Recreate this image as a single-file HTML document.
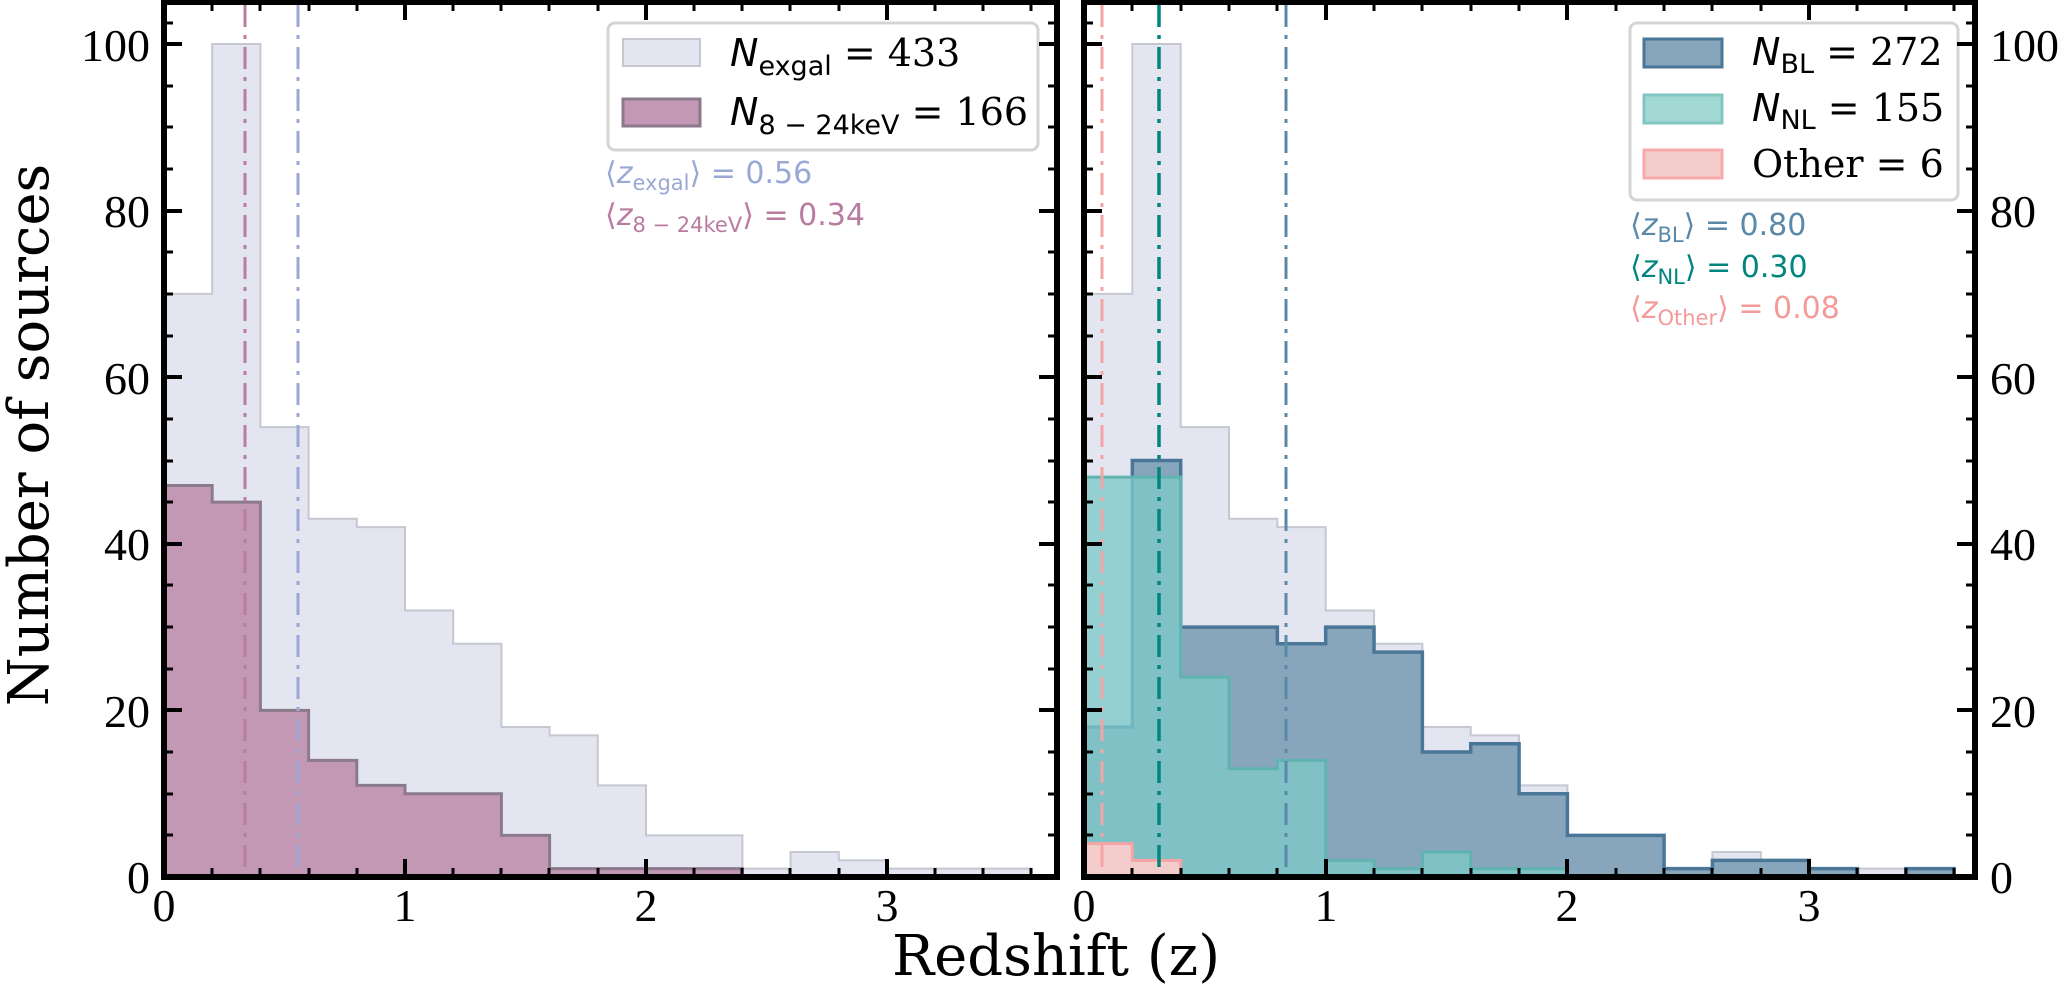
<!DOCTYPE html>
<html><head><meta charset="utf-8"><style>
html,body{margin:0;padding:0;background:#fff;}
svg{display:block;}
.tk{font-family:"Liberation Serif",serif;font-size:46px;fill:#000;}
.lab{font-family:"DejaVu Serif",serif;font-size:56px;fill:#000;}
.m{font-family:"DejaVu Sans",sans-serif;}
.num{font-family:"DejaVu Serif",serif;}
</style></head><body>
<svg width="2070" height="995" viewBox="0 0 2070 995" xmlns="http://www.w3.org/2000/svg">
<rect width="2070" height="995" fill="#fff"/>

<!-- LEFT PANEL -->
<g transform="translate(164,877) scale(241,-8.33)">
  <path d="M0,0 V70 H0.2 V100 H0.4 V54 H0.6 V43 H0.8 V42 H1.0 V32 H1.2 V28 H1.4 V18 H1.6 V17 H1.8 V11 H2.0 V5 H2.4 V1 H2.6 V3 H2.8 V2 H3.0 V1 H3.6 V0 Z" fill="#e3e5f0" stroke="#c6c7d0" stroke-width="2" vector-effect="non-scaling-stroke"/>
  <path d="M0,0 V47 H0.2 V45 H0.4 V20 H0.6 V14 H0.8 V11 H1.0 V10 H1.4 V5 H1.6 V1 H2.4 V0 Z" fill="#c298b5" stroke="#8b7a8b" stroke-width="3" vector-effect="non-scaling-stroke"/>
</g>
<line x1="245" y1="5" x2="245" y2="877" stroke="#b97ba0" stroke-width="3" stroke-dasharray="22,8,4,8"/>
<line x1="298" y1="5" x2="298" y2="877" stroke="#9aa8d6" stroke-width="3" stroke-dasharray="22,8,4,8"/>

<!-- left legend -->
<rect x="608" y="23" width="430" height="127" rx="7" fill="#fff" fill-opacity="0.85" stroke="#d4d4d4" stroke-width="3"/>
<rect x="623" y="39" width="77" height="27" fill="#e3e5f0" stroke="#c6c7d0" stroke-width="2"/>
<rect x="623" y="99" width="77" height="27" fill="#c298b5" stroke="#8b7a8b" stroke-width="3"/>
<text x="730" y="66" font-size="38"><tspan class="m" font-style="italic">N</tspan><tspan class="m" font-size="27" dy="9">exgal</tspan><tspan class="m" dy="-9"> = </tspan><tspan class="num" font-size="38">433</tspan></text>
<text x="730" y="125" font-size="38"><tspan class="m" font-style="italic">N</tspan><tspan class="m" font-size="27" dy="9">8 − 24keV</tspan><tspan class="m" dy="-9"> = </tspan><tspan class="num" font-size="38">166</tspan></text>
<text x="605" y="183" font-size="30" fill="#9aa8d6" class="m">⟨<tspan font-style="italic">z</tspan><tspan font-size="21" dy="7">exgal</tspan><tspan dy="-7">⟩ = 0.56</tspan></text>
<text x="605" y="225" font-size="30" fill="#b97ba0" class="m">⟨<tspan font-style="italic">z</tspan><tspan font-size="21" dy="7">8 − 24keV</tspan><tspan dy="-7">⟩ = 0.34</tspan></text>

<!-- RIGHT PANEL -->
<g transform="translate(1084,877) scale(241.7,-8.33)">
  <path d="M0,0 V70 H0.2 V100 H0.4 V54 H0.6 V43 H0.8 V42 H1.0 V32 H1.2 V28 H1.4 V18 H1.6 V17 H1.8 V11 H2.0 V5 H2.4 V1 H2.6 V3 H2.8 V2 H3.0 V1 H3.6 V0 Z" fill="#e3e5f0" stroke="#c6c7d0" stroke-width="2" vector-effect="non-scaling-stroke"/>
  <path d="M0,0 V18 H0.2 V50 H0.4 V30 H0.8 V28 H1.0 V30 H1.2 V27 H1.4 V15 H1.6 V16 H1.8 V10 H2.0 V5 H2.4 V1 H2.6 V2 H3.0 V1 H3.2 V0 H3.4 V1 H3.6 V0 Z" fill="#87a6bc" stroke="#4a7798" stroke-width="3.5" vector-effect="non-scaling-stroke"/>
  <path d="M0,0 V48 H0.4 V24 H0.6 V13 H0.8 V14 H1.0 V2 H1.2 V1 H1.4 V3 H1.6 V1 H2.0 V0 Z" fill="rgb(126,201,201)" fill-opacity="0.78" stroke="#5fb3b0" stroke-width="3" vector-effect="non-scaling-stroke"/>
  <path d="M0,0 V4 H0.2 V2 H0.4 V0 Z" fill="#f5cccc" stroke="#f4a4a4" stroke-width="3" vector-effect="non-scaling-stroke"/>
</g>
<line x1="1102" y1="5" x2="1102" y2="877" stroke="#f4a4a4" stroke-width="3" stroke-dasharray="22,8,4,8"/>
<line x1="1159" y1="5" x2="1159" y2="877" stroke="#00857f" stroke-width="3.5" stroke-dasharray="22,8,4,8"/>
<line x1="1286" y1="5" x2="1286" y2="877" stroke="#5a88a8" stroke-width="3" stroke-dasharray="22,8,4,8"/>

<!-- right legend -->
<rect x="1630" y="23" width="328" height="177" rx="7" fill="#fff" fill-opacity="0.85" stroke="#d4d4d4" stroke-width="3"/>
<rect x="1644" y="39" width="78" height="28" fill="#87a6bc" stroke="#4a7798" stroke-width="3"/>
<rect x="1644" y="95" width="78" height="28" fill="#a2d9d5" stroke="#82c6c0" stroke-width="3"/>
<rect x="1644" y="150" width="78" height="28" fill="#f5cccc" stroke="#f9a9a9" stroke-width="3"/>
<text x="1752" y="65" font-size="38"><tspan class="m" font-style="italic">N</tspan><tspan class="m" font-size="27" dy="8">BL</tspan><tspan class="m" dy="-8"> = </tspan><tspan class="num" font-size="38">272</tspan></text>
<text x="1752" y="121" font-size="38"><tspan class="m" font-style="italic">N</tspan><tspan class="m" font-size="27" dy="8">NL</tspan><tspan class="m" dy="-8"> = </tspan><tspan class="num" font-size="38">155</tspan></text>
<text x="1752" y="177" font-size="38" class="num">Other <tspan class="m" font-size="38">=</tspan> 6</text>
<text x="1630" y="235" font-size="30" fill="#5a88a8" class="m">⟨<tspan font-style="italic">z</tspan><tspan font-size="21" dy="7">BL</tspan><tspan dy="-7">⟩ = 0.80</tspan></text>
<text x="1630" y="277" font-size="30" fill="#00857f" class="m">⟨<tspan font-style="italic">z</tspan><tspan font-size="21" dy="7">NL</tspan><tspan dy="-7">⟩ = 0.30</tspan></text>
<text x="1630" y="318" font-size="30" fill="#f49a9a" class="m">⟨<tspan font-style="italic">z</tspan><tspan font-size="21" dy="7">Other</tspan><tspan dy="-7">⟩ = 0.08</tspan></text>

<!-- ticks -->
<g stroke="#000">
  <g stroke-width="4">
    <path d="M405,877v-18 M646,877v-18 M887,877v-18 M405,2v18 M646,2v18 M887,2v18"/>
    <path d="M1326,877v-18 M1567,877v-18 M1809,877v-18 M1326,2v18 M1567,2v18 M1809,2v18"/>
    <path d="M164,44h18 M164,211h18 M164,377h18 M164,544h18 M164,710h18 M1057,44h-18 M1057,211h-18 M1057,377h-18 M1057,544h-18 M1057,710h-18"/>
    <path d="M1084,44h18 M1084,211h18 M1084,377h18 M1084,544h18 M1084,710h18 M1975,44h-18 M1975,211h-18 M1975,377h-18 M1975,544h-18 M1975,710h-18"/>
  </g>
  <g stroke-width="3">
    <path d="M212,877v-9 M260,877v-9 M309,877v-9 M357,877v-9 M453,877v-9 M501,877v-9 M549,877v-9 M598,877v-9 M694,877v-9 M742,877v-9 M790,877v-9 M839,877v-9 M935,877v-9 M983,877v-9 M1031,877v-9
             M212,2v9 M260,2v9 M309,2v9 M357,2v9 M453,2v9 M501,2v9 M549,2v9 M598,2v9 M694,2v9 M742,2v9 M790,2v9 M839,2v9 M935,2v9 M983,2v9 M1031,2v9"/>
    <path d="M1132,877v-9 M1181,877v-9 M1229,877v-9 M1277,877v-9 M1374,877v-9 M1422,877v-9 M1471,877v-9 M1519,877v-9 M1616,877v-9 M1664,877v-9 M1712,877v-9 M1761,877v-9 M1857,877v-9 M1906,877v-9 M1954,877v-9
             M1132,2v9 M1181,2v9 M1229,2v9 M1277,2v9 M1374,2v9 M1422,2v9 M1471,2v9 M1519,2v9 M1616,2v9 M1664,2v9 M1712,2v9 M1761,2v9 M1857,2v9 M1906,2v9 M1954,2v9"/>
    <path d="M164,835h9 M164,794h9 M164,752h9 M164,669h9 M164,627h9 M164,585h9 M164,502h9 M164,461h9 M164,419h9 M164,336h9 M164,294h9 M164,252h9 M164,169h9 M164,127h9 M164,86h9 M164,23h9
             M1057,835h-9 M1057,794h-9 M1057,752h-9 M1057,669h-9 M1057,627h-9 M1057,585h-9 M1057,502h-9 M1057,461h-9 M1057,419h-9 M1057,336h-9 M1057,294h-9 M1057,252h-9 M1057,169h-9 M1057,127h-9 M1057,86h-9 M1057,23h-9"/>
    <path d="M1084,835h9 M1084,794h9 M1084,752h9 M1084,669h9 M1084,627h9 M1084,585h9 M1084,502h9 M1084,461h9 M1084,419h9 M1084,336h9 M1084,294h9 M1084,252h9 M1084,169h9 M1084,127h9 M1084,86h9 M1084,23h9
             M1975,835h-9 M1975,794h-9 M1975,752h-9 M1975,669h-9 M1975,627h-9 M1975,585h-9 M1975,502h-9 M1975,461h-9 M1975,419h-9 M1975,336h-9 M1975,294h-9 M1975,252h-9 M1975,169h-9 M1975,127h-9 M1975,86h-9 M1975,23h-9"/>
  </g>
</g>

<!-- spines -->
<rect x="164" y="2" width="893" height="875" fill="none" stroke="#000" stroke-width="6"/>
<rect x="1084" y="2" width="891" height="875" fill="none" stroke="#000" stroke-width="6"/>

<!-- tick labels -->
<g class="tk" text-anchor="end">
  <text x="150" y="893">0</text><text x="150" y="727">20</text><text x="150" y="560">40</text>
  <text x="150" y="394">60</text><text x="150" y="227">80</text><text x="150" y="61">100</text>
</g>
<g class="tk" text-anchor="start">
  <text x="1990" y="893">0</text><text x="1990" y="727">20</text><text x="1990" y="560">40</text>
  <text x="1990" y="394">60</text><text x="1990" y="227">80</text><text x="1990" y="61">100</text>
</g>
<g class="tk" text-anchor="middle">
  <text x="164" y="921">0</text><text x="405" y="921">1</text><text x="646" y="921">2</text><text x="887" y="921">3</text>
  <text x="1084" y="921">0</text><text x="1326" y="921">1</text><text x="1567" y="921">2</text><text x="1809" y="921">3</text>
</g>

<text class="lab" x="1056" y="975" text-anchor="middle">Redshift (z)</text>
<text class="lab" transform="translate(48,435) rotate(-90)" text-anchor="middle">Number of sources</text>
</svg>
</body></html>
